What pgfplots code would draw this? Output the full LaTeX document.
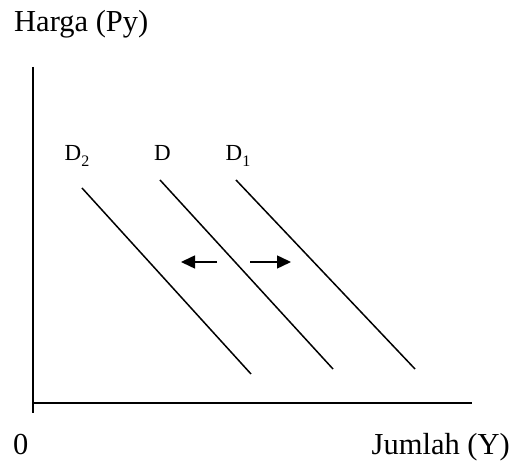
\documentclass[border=0pt]{standalone}
\usepackage{pgfplots}
\pgfplotsset{compat=1.18}
\usepackage{fontspec}
\setmainfont{Liberation Serif}
\usetikzlibrary{arrows.meta}
\newcommand{\sub}[1]{\raisebox{-6.5bp}{\fontsize{16bp}{16bp}\selectfont #1}}
\begin{document}
\begin{tikzpicture}
\begin{axis}[
  scale only axis, width=514bp, height=461bp,
  xmin=0, xmax=514, ymin=-461, ymax=0,
  hide axis, clip=false,
]
\path (axis cs:0,0) rectangle (axis cs:514,-461);
% axes
\addplot[black, line width=2bp] coordinates {(33,-67) (33,-413)};
\addplot[black, line width=2bp] coordinates {(33,-403) (472,-403)};
% demand curves
\addplot[black, line width=1.5bp] coordinates {(82,-188) (251,-374)};
\addplot[black, line width=1.5bp] coordinates {(160,-180) (333,-369)};
\addplot[black, line width=1.5bp] coordinates {(236,-180) (415,-369)};
% shift arrows
\addplot[black, line width=1.5bp, -{Triangle[length=14bp,width=13bp]}] coordinates {(217,-262) (181,-262)};
\addplot[black, line width=1.5bp, -{Triangle[length=14bp,width=13bp]}] coordinates {(250,-262) (291,-262)};
% labels
\node[anchor=base west, inner sep=0pt, font=\fontsize{30.5bp}{33bp}\selectfont] at (axis cs:14,-31.5) {Harga (Py)};
\node[anchor=base west, inner sep=0pt, font=\fontsize{30.5bp}{33bp}\selectfont] at (axis cs:13,-455) {0};
\node[anchor=base east, inner sep=0pt, font=\fontsize{30.5bp}{33bp}\selectfont] at (axis cs:510,-455) {Jumlah (Y)};
\node[anchor=base west, inner sep=0pt, font=\fontsize{23bp}{26bp}\selectfont] at (axis cs:64.5,-160.5) {D\sub{2}};
\node[anchor=base west, inner sep=0pt, font=\fontsize{23bp}{26bp}\selectfont] at (axis cs:154,-160.5) {D};
\node[anchor=base west, inner sep=0pt, font=\fontsize{23bp}{26bp}\selectfont] at (axis cs:225.5,-160.5) {D\sub{1}};
\end{axis}
\end{tikzpicture}
\end{document}
